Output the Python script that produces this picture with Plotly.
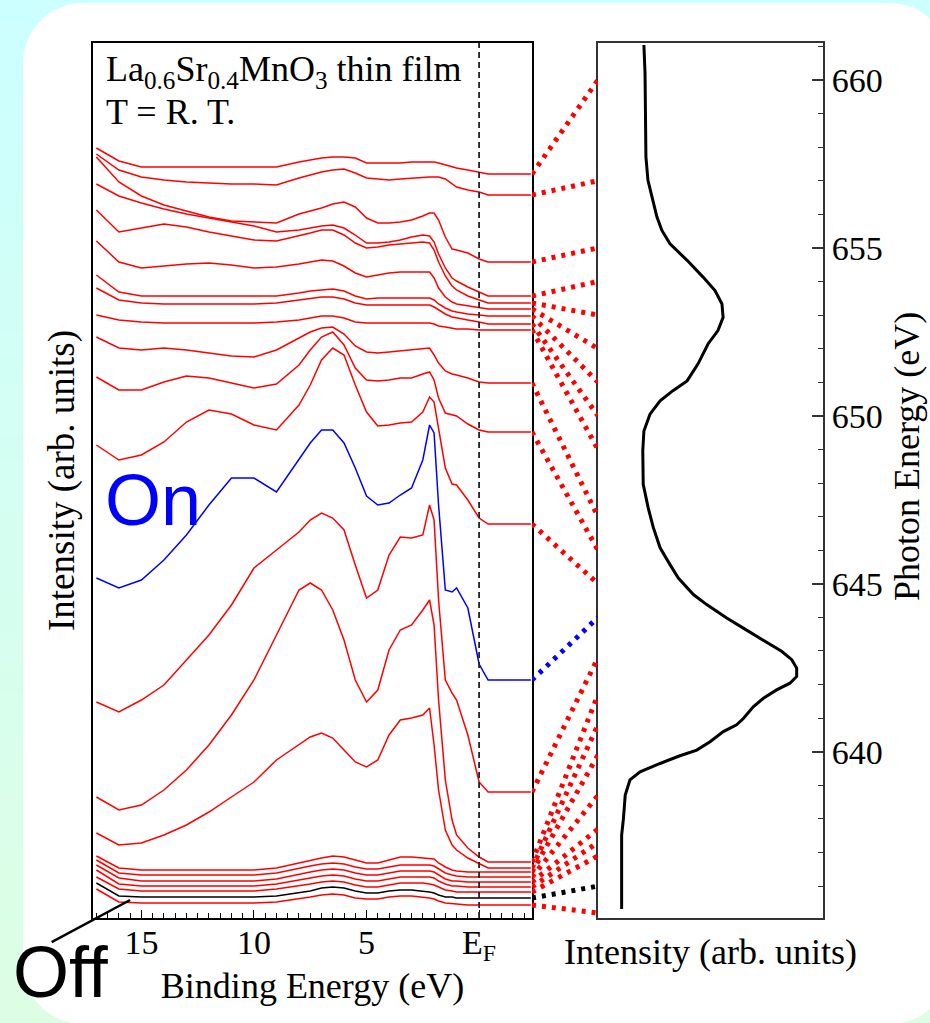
import plotly.graph_objects as go

W, H = 930, 1023
# plot area in pixels (left, right, top, bottom)
PL, PR, PT, PB = 93, 823, 43, 918
PW, PH = PR - PL, PB - PT

# ---------------- data ----------------
binding_energy = [17.0, 16.0, 15.0, 14.0, 13.0, 12.0, 11.0, 10.0, 9.0, 8.0, 7.5, 7.0, 6.5, 6.0, 5.5,
                  5.0, 4.5, 4.0, 3.5, 3.0, 2.5, 2.2, 2.0, 1.8, 1.5, 1.2, 1.0, 0.5, 0.0, -0.4, -2.3]

spec_01 = [770, 757, 751, 751, 751, 751, 751, 751, 751, 756, 758, 760, 761, 761, 760, 755, 755, 755, 755, 756, 756, 756, 756, 755, 753, 751, 750, 748, 746, 744, 744]
spec_02 = [764, 748, 741, 738, 736, 735, 734, 734, 733, 740, 743, 746, 748, 749, 745, 740, 739, 738, 739, 740, 741, 741, 741, 741, 739, 734, 731, 728, 726, 723, 723]
spec_03 = [761, 736, 722, 713, 707, 701, 697, 696, 695, 704, 707, 710, 714, 716, 711, 700, 695, 695, 696, 698, 702, 705, 705, 698, 681, 669, 668, 665, 659, 656, 656]
spec_04 = [734, 722, 715, 709, 704, 700, 696, 692, 686, 688, 690, 692, 693, 690, 683, 675, 675, 676, 678, 681, 683, 682, 676, 664, 650, 640, 637, 631, 626, 622, 622]
spec_05 = [708, 686, 690, 694, 691, 686, 682, 678, 677, 682, 685, 688, 688, 683, 675, 670, 671, 673, 674, 675, 676, 675, 668, 656, 642, 632, 628, 622, 618, 615, 615]
spec_06 = [677, 656, 650, 652, 654, 655, 653, 650, 651, 654, 656, 658, 657, 652, 645, 641, 643, 645, 646, 646, 646, 646, 640, 630, 621, 616, 614, 612, 610, 609, 609]
spec_07 = [643, 626, 622, 622, 622, 622, 622, 622, 622, 625, 627, 628, 629, 627, 622, 619, 620, 620, 620, 620, 620, 620, 618, 614, 610, 607, 606, 604, 603, 602, 602]
spec_08 = [630, 618, 615, 614, 614, 614, 614, 614, 615, 618, 620, 621, 621, 619, 615, 613, 613, 613, 613, 613, 613, 613, 611, 608, 604, 601, 600, 598, 596, 594, 594]
spec_09 = [603, 598, 596, 595, 595, 595, 595, 595, 596, 598, 600, 602, 602, 600, 596, 595, 595, 595, 595, 595, 595, 595, 594, 592, 591, 590, 589, 589, 588, 588, 588]
spec_10 = [581, 570, 568, 570, 568, 565, 562, 561, 568, 580, 586, 590, 591, 584, 572, 566, 565, 566, 567, 568, 569, 570, 563, 555, 547, 544, 543, 540, 536, 535, 535]
spec_11 = [541, 528, 528, 536, 542, 540, 535, 530, 534, 553, 568, 581, 586, 573, 550, 538, 537, 538, 540, 540, 544, 546, 538, 520, 505, 503, 502, 494, 488, 486, 486]
spec_12 = [473, 458, 463, 476, 496, 508, 504, 493, 488, 513, 533, 558, 570, 563, 533, 506, 492, 493, 495, 496, 506, 521, 516, 488, 450, 434, 433, 418, 400, 394, 394]
spec_on = [340, 330, 338, 358, 383, 413, 440, 440, 426, 458, 475, 488, 488, 475, 450, 422, 413, 415, 423, 430, 458, 493, 485, 413, 328, 326, 330, 310, 254, 238, 238]
spec_14 = [216, 206, 218, 233, 258, 283, 313, 350, 368, 386, 398, 405, 400, 388, 353, 320, 328, 363, 381, 380, 383, 413, 398, 318, 238, 225, 218, 183, 136, 126, 126]
spec_15 = [121, 108, 113, 128, 148, 173, 203, 238, 283, 328, 335, 328, 308, 278, 238, 216, 228, 268, 288, 293, 308, 318, 293, 218, 138, 98, 83, 70, 61, 56, 56]
spec_16 = [85, 73, 75, 83, 93, 106, 121, 136, 158, 173, 181, 185, 180, 168, 156, 151, 158, 183, 198, 200, 203, 210, 173, 128, 88, 73, 68, 60, 54, 50, 50]
spec_17 = [62, 50, 48, 48, 48, 48, 48, 48, 50, 55, 58, 60, 62, 61, 58, 55, 55, 58, 61, 61, 60, 60, 59, 55, 51, 48, 47, 46, 46, 46, 46]
spec_18 = [58, 45, 43, 43, 43, 43, 43, 43, 45, 50, 52, 54, 55, 54, 51, 49, 49, 51, 53, 53, 53, 53, 52, 49, 45, 43, 42, 41, 41, 41, 41]
spec_19 = [53, 40, 37, 37, 37, 37, 37, 37, 39, 44, 46, 48, 49, 48, 45, 43, 43, 45, 47, 47, 47, 47, 46, 43, 39, 37, 37, 36, 36, 36, 36]
spec_20 = [48, 34, 32, 32, 32, 32, 32, 32, 34, 38, 40, 42, 43, 42, 39, 37, 37, 39, 41, 41, 41, 41, 40, 37, 34, 32, 32, 31, 31, 31, 31]
spec_21 = [41, 29, 27, 27, 27, 27, 27, 27, 29, 32, 34, 36, 37, 36, 33, 31, 31, 33, 35, 35, 35, 34, 33, 31, 28, 27, 26, 26, 26, 26, 26]
spec_off = [35, 22, 21, 21, 21, 21, 21, 21, 22, 25, 27, 30, 31, 30, 27, 25, 25, 27, 28, 28, 27, 26, 25, 23, 21, 21, 20, 20, 20, 20, 20]
spec_23 = [29, 16, 15, 15, 15, 15, 15, 15, 16, 19, 21, 23, 24, 23, 20, 19, 19, 21, 22, 22, 21, 20, 19, 17, 15, 14, 14, 13, 13, 13, 13]

spectra = [spec_01, spec_02, spec_03, spec_04, spec_05, spec_06, spec_07, spec_08, spec_09,
           spec_10, spec_11, spec_12, spec_on, spec_14, spec_15, spec_16, spec_17, spec_18,
           spec_19, spec_20, spec_21, spec_off, spec_23]
photon_energy = [660, 657, 655, 654, 653, 652, 651, 650, 649, 647, 646, 645, 644,
                 642.8, 641.7, 640.8, 639.9, 638.7, 637.7, 637.3, 636.9, 636.0, 635.2]
spectrum_kind = ["r"] * 12 + ["on"] + ["r"] * 8 + ["off"] + ["r"]

xas_energy = [635.32, 637.51, 638.01, 638.71, 639.16, 639.40, 639.65, 639.88, 640.05, 640.30,
              640.60, 640.80, 640.99, 641.34, 641.59, 641.84, 642.04, 642.24, 642.49, 642.74,
              642.99, 643.33, 643.68, 643.98, 644.38, 644.68, 645.17, 645.57, 646.07, 646.67,
              647.26, 647.96, 648.56, 648.96, 649.55, 650.05, 650.45, 650.75, 651.04, 651.54,
              652.14, 652.54, 652.93, 653.33, 653.73, 654.13, 654.63, 655.12, 655.52, 655.92,
              656.52, 657.01, 657.71, 660.20, 661.04]
xas_intensity = [10.5, 10.5, 11.3, 12.1, 14.2, 18.7, 27.6, 36.4, 43.9, 49.8,
                 55.7, 61.6, 64.6, 69.0, 73.5, 79.4, 85.3, 88.3, 88.3, 86.1,
                 81.6, 73.5, 64.6, 57.2, 48.3, 42.4, 35.7, 32.0, 27.6, 24.6,
                 22.3, 20.1, 20.0, 19.9, 20.4, 23.1, 27.6, 33.3, 39.6, 44.4,
                 48.9, 53.3, 55.6, 55.1, 52.0, 46.7, 39.6, 32.0, 28.4, 26.2,
                 24.0, 22.2, 21.3, 20.9, 20.4]

be_ticks = [15, 10, 5, 0]
be_ticktext = ["15", "10", "5", "E<sub>F</sub>"]
hv_ticks = [640, 645, 650, 655, 660]

BE_RANGE = [17.15, -2.35]
I_RANGE = [0, 875]
HV_RANGE = [635.05, 661.1]
XAS_RANGE = [0, 100]

# ---------------- styling helpers ----------------
SERIF = "Liberation Serif, Times New Roman, serif"
SANS = "Liberation Sans, Arial, sans-serif"
COLORS = {"r": "#ff0000", "on": "#0000ff", "off": "#000000"}


def px(xp):
    return (xp - PL) / PW


def py(yp):
    return (PB - yp) / PH


left_dom = [0, px(532)]
right_dom = [px(598), 1]
gap_dom = [px(532), px(598)]

fig = go.Figure()

# spectra (left panel)
for vals, kind in zip(spectra, spectrum_kind):
    fig.add_trace(go.Scatter(x=binding_energy, y=vals, mode="lines",
                             line=dict(color=COLORS[kind], width=1.5),
                             xaxis="x", yaxis="y", showlegend=False, hoverinfo="skip"))

# XAS (right panel)
fig.add_trace(go.Scatter(x=xas_intensity, y=xas_energy, mode="lines",
                         line=dict(color="#000000", width=3),
                         xaxis="x2", yaxis="y2", showlegend=False, hoverinfo="skip"))

# dotted connectors in the gap, mapped through both axis ranges
for vals, hv, kind in zip(spectra, photon_energy, spectrum_kind):
    f_left = (vals[-1] - I_RANGE[0]) / (I_RANGE[1] - I_RANGE[0])
    f_right = (hv - HV_RANGE[0]) / (HV_RANGE[1] - HV_RANGE[0])
    fig.add_trace(go.Scatter(x=[0, 1], y=[f_left, f_right], mode="lines",
                             line=dict(color=COLORS[kind], width=5, dash="4px,6px"),
                             xaxis="x3", yaxis="y3", showlegend=False, hoverinfo="skip",
                             cliponaxis=False))

# ---------------- background ----------------
shapes = []
top_c = (204, 255, 255)
bot_c = (221, 254, 228)
n = 40
for i in range(n):
    t = i / (n - 1)
    c = tuple(int(round(top_c[k] + (bot_c[k] - top_c[k]) * t)) for k in range(3))
    y0p = H * i / n
    y1p = H * (i + 1) / n + 1
    shapes.append(dict(type="rect", xref="paper", yref="paper", layer="below",
                       x0=px(-5), x1=px(W + 5), y0=py(y1p), y1=py(y0p),
                       line=dict(width=0), fillcolor="rgb(%d,%d,%d)" % c))

# white rounded panel
L, R, T, B, r = 23, 950, 3, 1024, 60
k = 0.55
pts = [
    ("M", [(L + r, T)]),
    ("L", [(R - r, T)]),
    ("C", [(R - r + k * r, T), (R, T + r - k * r), (R, T + r)]),
    ("L", [(R, B - r)]),
    ("C", [(R, B - r + k * r), (R - r + k * r, B), (R - r, B)]),
    ("L", [(L + r, B)]),
    ("C", [(L + r - k * r, B), (L, B - r + k * r), (L, B - r)]),
    ("L", [(L, T + r)]),
    ("C", [(L, T + r - k * r), (L + r - k * r, T), (L + r, T)]),
]
path = ""
for cmd, pp in pts:
    path += cmd + " " + " ".join("%.5f,%.5f" % (px(a), py(b)) for a, b in pp) + " "
path += "Z"
shapes.append(dict(type="path", xref="paper", yref="paper", layer="below", path=path,
                   fillcolor="#ffffff", line=dict(width=0)))

# Fermi level dashed line
shapes.append(dict(type="line", xref="x", yref="y domain", x0=0, x1=0, y0=0, y1=1,
                   line=dict(color="#222222", width=1.8, dash="6px,4px")))

annotations = [
    dict(xref="paper", yref="paper", x=px(104), y=py(71), xanchor="left", yanchor="middle",
         text="La<sub>0.6</sub>Sr<sub>0.4</sub>MnO<sub>3</sub> thin film", showarrow=False,
         font=dict(family=SERIF, size=36, color="#000000")),
    dict(xref="paper", yref="paper", x=px(104), y=py(112), xanchor="left", yanchor="middle",
         text="T = R. T.", showarrow=False,
         font=dict(family=SERIF, size=36, color="#000000")),
    dict(xref="paper", yref="paper", x=px(103), y=py(500), xanchor="left", yanchor="middle",
         text="On", showarrow=False, font=dict(family=SANS, size=72, color="#0000ff")),
    dict(xref="paper", yref="paper", x=px(61), y=py(972), xanchor="center", yanchor="middle",
         text="Off", showarrow=False, font=dict(family=SANS, size=72, color="#000000")),
    dict(xref="x", yref="y", x=15.5, y=spec_off[2] - 3, text=" ", font=dict(size=1),
         showarrow=True, arrowhead=0, arrowwidth=2.5, arrowcolor="#000000",
         ax=-80, ay=43, standoff=0, startstandoff=0),
    # right-hand axis title, placed where the reference has it
    dict(xref="paper", yref="paper", x=px(907), y=py(457), xanchor="center", yanchor="middle",
         text="Photon Energy (eV)", textangle=-90, showarrow=False,
         font=dict(family=SERIF, size=36, color="#000000")),
]

axis_font = dict(family=SERIF, size=34, color="#000000")
title_font = dict(family=SERIF, size=36, color="#000000")

fig.update_layout(
    width=W, height=H,
    margin=dict(l=PL, r=W - PR, t=PT, b=H - PB, pad=0, autoexpand=False),
    paper_bgcolor="rgb(204,255,255)",
    plot_bgcolor="rgba(0,0,0,0)",
    showlegend=False,
    shapes=shapes,
    annotations=annotations,
    xaxis=dict(domain=left_dom, range=BE_RANGE, anchor="y", showgrid=False, zeroline=False,
               automargin=False,
               showline=True, linecolor="#000000", linewidth=1.5, mirror=True,
               ticks="inside", ticklen=8, tickwidth=1.2, tickcolor="#000000",
               tickvals=be_ticks, ticktext=be_ticktext, tickfont=axis_font,
               ticklabelstandoff=-7,
               minor=dict(ticks="inside", dtick=0.5, tick0=0, ticklen=5, tickwidth=1,
                          tickcolor="#000000", showgrid=False),
               title=dict(text="Binding Energy (eV)", font=title_font, standoff=2)),
    yaxis=dict(domain=[0, 1], range=I_RANGE, anchor="x", showgrid=False, zeroline=False,
               automargin=False,
               showline=True, linecolor="#000000", linewidth=1.5, mirror=True,
               showticklabels=False, ticks="",
               title=dict(text="Intensity (arb. units)",
                          font=dict(family=SERIF, size=37, color="#000000"), standoff=5)),
    xaxis2=dict(domain=right_dom, range=XAS_RANGE, anchor="y2", showgrid=False, zeroline=False,
                automargin=False,
                showline=True, linecolor="#333333", linewidth=2, mirror=True,
                showticklabels=False, ticks="",
                title=dict(text="Intensity (arb. units)", font=title_font, standoff=20)),
    yaxis2=dict(domain=[0, 1], range=HV_RANGE, anchor="x2", side="right", showgrid=False,
                automargin=False,
                zeroline=False, showline=True, linecolor="#333333", linewidth=2, mirror=True,
                ticks="inside", ticklen=11, tickwidth=1.5, tickcolor="#333333",
                tickvals=hv_ticks, tickfont=axis_font,
                minor=dict(ticks="inside", dtick=1, ticklen=5, tickwidth=1.2,
                           tickcolor="#333333", showgrid=False)),
    xaxis3=dict(domain=gap_dom, range=[0, 1], anchor="y3", visible=False),
    yaxis3=dict(domain=[0, 1], range=[0, 1], anchor="x3", visible=False),
)

fig.write_html("out.html")
